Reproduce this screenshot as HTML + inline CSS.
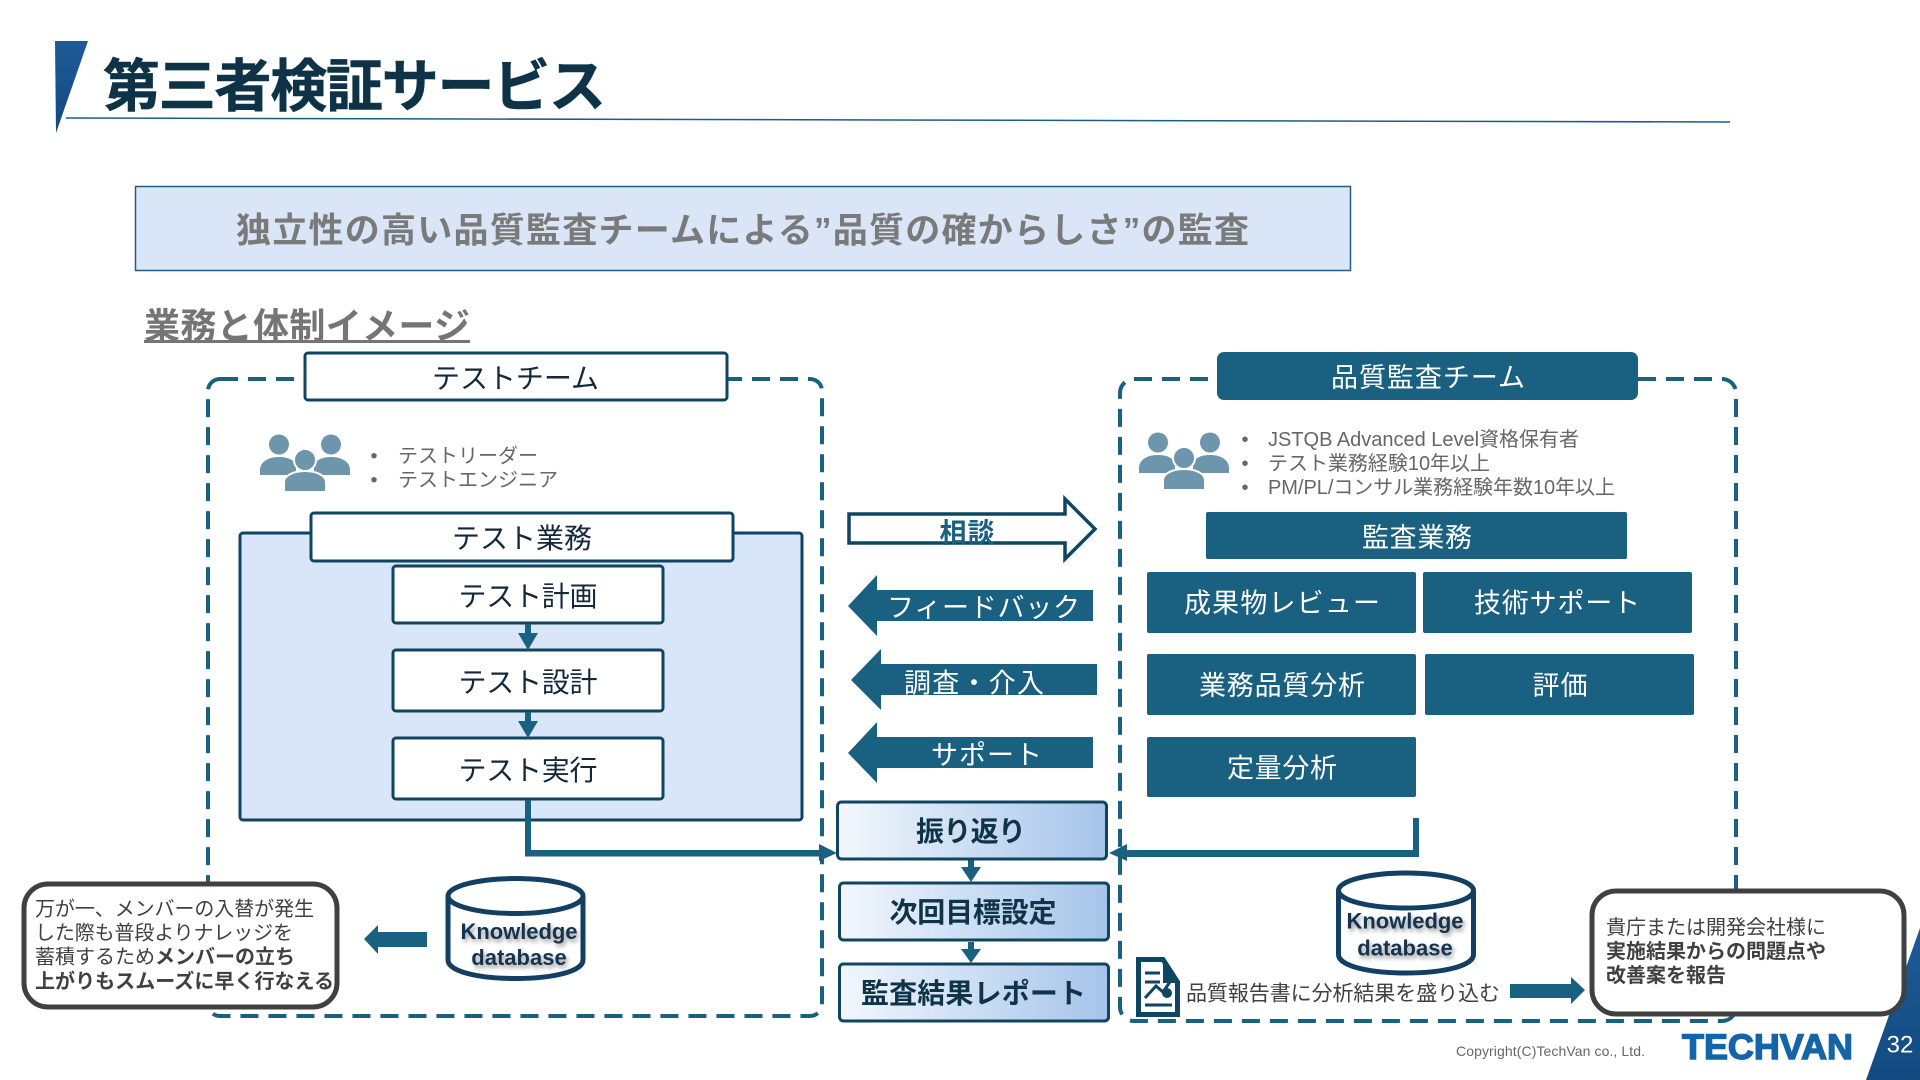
<!DOCTYPE html>
<html lang="ja"><head><meta charset="utf-8"><title>第三者検証サービス</title>
<style>
html,body{margin:0;padding:0;background:#fff;width:1920px;height:1080px;overflow:hidden}
svg{display:block}
text{font-family:"Liberation Sans","Noto Sans CJK JP",sans-serif;dominant-baseline:central;transform:translateY(1.5px)}
.c{text-anchor:middle}
.b{font-weight:700}
.d{fill:#14283a;font-size:28px}
.w{fill:#fff;font-size:27px}
.g{fill:#666;font-size:20px}
.k{fill:#404040;font-size:20px}
.h{fill:#0f3347;font-size:28px;font-weight:700}
.db{fill:#14334f;font-size:22px;font-weight:700;filter:drop-shadow(2px 3px 2px rgba(0,0,0,.4))}
</style></head><body>
<svg width="1920" height="1080" viewBox="0 0 1920 1080" xmlns="http://www.w3.org/2000/svg">
<defs>
<linearGradient id="gr" x1="0" x2="1" y1="0" y2="0"><stop offset="0" stop-color="#f2f7fd"/><stop offset="1" stop-color="#a5c4ea"/></linearGradient>
<linearGradient id="tr" x1="0" x2="0" y1="0" y2="1"><stop offset="0" stop-color="#1f5a96"/><stop offset="1" stop-color="#124a80"/></linearGradient>
<g id="ppl" fill="#6d96ad">
<circle cx="19" cy="10.5" r="10"/><circle cx="71" cy="10.5" r="10"/>
<path d="M0 41V36C0 28 8 23 19 23C28 23 33 26 36 30V41Z"/>
<path d="M90 41V36C90 28 82 23 71 23C62 23 57 26 54 30V41Z"/>
<circle cx="45" cy="26" r="11" stroke="#fff" stroke-width="2"/>
<path d="M24 58V48C24 42 33 37 45 37C57 37 66 42 66 48V58Z" stroke="#fff" stroke-width="2"/>
</g>
<g id="cyl">
<path d="M2.5 21V84C2.5 95 31 102.5 70 102.5C109 102.5 137.5 95 137.5 84V21" fill="#fff" stroke="#123f62" stroke-width="5"/>
<ellipse cx="70" cy="20" rx="67.5" ry="17.5" fill="#fff" stroke="#123f62" stroke-width="5"/>
</g>
</defs>

<!-- title -->
<polygon points="55,41 88,41 56,133" fill="url(#tr)"/>
<line x1="66" y1="118" x2="1730" y2="122" stroke="#1a5f80" stroke-width="1.5"/>
<text x="103" y="85.500" font-size="57" font-weight="700" fill="#0e3347" stroke="#0e3347" stroke-width="0.600" textLength="503">第三者検証サービス</text>

<!-- banner -->
<rect x="135.5" y="186.5" width="1215" height="84" fill="#dae6f8" stroke="#1b6080" stroke-width="1.5"/>
<text x="236" y="229.500" font-size="35" font-weight="700" fill="#7a7a7a" textLength="1013">独立性の高い品質監査チームによる”品質の確からしさ”の監査</text>

<!-- subtitle -->
<text x="144" y="324.500" font-size="36" font-weight="700" fill="#757575" textLength="326">業務と体制イメージ</text>
<rect x="144" y="340" width="326" height="3" fill="#757575"/>

<!-- dashed containers -->
<rect x="208" y="379" width="614" height="637" rx="12" fill="none" stroke="#1a6080" stroke-width="4" stroke-dasharray="18 10"/>
<rect x="1120" y="379" width="616" height="642" rx="14" fill="none" stroke="#1a6080" stroke-width="4" stroke-dasharray="18 10"/>

<!-- left team -->
<rect x="305" y="353" width="422" height="47" rx="3" fill="#fff" stroke="#0f4560" stroke-width="3"/>
<text x="515.500" y="377" class="c d" textLength="167">テストチーム</text>
<use href="#ppl" x="260" y="434"/>
<text x="374" y="455" class="g" text-anchor="middle">•</text>
<text x="374" y="479" class="g" text-anchor="middle">•</text>
<text x="398" y="455" class="g" textLength="140">テストリーダー</text>
<text x="398" y="479" class="g" textLength="160">テストエンジニア</text>

<rect x="240" y="533" width="562" height="287" rx="3" fill="#d9e6f9" stroke="#0f4560" stroke-width="3"/>
<rect x="311" y="513" width="422" height="48" rx="3" fill="#fff" stroke="#0f4560" stroke-width="3"/>
<text x="522" y="537" class="c d" textLength="140">テスト業務</text>
<rect x="393" y="566" width="270" height="57" rx="3" fill="#fff" stroke="#0f4560" stroke-width="3"/>
<text x="528" y="595" class="c d" textLength="139">テスト計画</text>
<rect x="393" y="650" width="270" height="61" rx="3" fill="#fff" stroke="#0f4560" stroke-width="3"/>
<text x="528" y="681" class="c d" textLength="139">テスト設計</text>
<rect x="393" y="738" width="270" height="61" rx="3" fill="#fff" stroke="#0f4560" stroke-width="3"/>
<text x="528" y="769" class="c d" textLength="139">テスト実行</text>
<g fill="#1a6080">
<rect x="525" y="624" width="6" height="12"/><polygon points="518,633 538,633 528,650"/>
<rect x="525" y="712" width="6" height="12"/><polygon points="518,721 538,721 528,738"/>
<!-- left connector -->
<path d="M525 800H531V850H819V844L837 853L819 861V856.500H525Z"/>
<!-- right connector -->
<path d="M1413 818H1419V857H1127V861L1109 853L1127 844V850H1413Z"/>
<!-- center arrows -->
<rect x="968" y="860" width="6" height="10"/><polygon points="961,867 981,867 971,882"/>
<rect x="968" y="942" width="6" height="10"/><polygon points="961,949 981,949 971,963"/>
</g>

<!-- left database + callout -->
<use href="#cyl" x="445.500" y="876"/>
<text x="519" y="930" class="c db" textLength="117">Knowledge</text>
<text x="519" y="956" class="c db">database</text>
<polygon points="364,939 378,925 378,932 427,932 427,947 378,947 378,954" fill="#1a6080"/>
<rect x="24" y="884" width="313" height="123" rx="24" fill="#fff" stroke="#404040" stroke-width="5"/>
<text x="35" y="908" class="k" textLength="279">万が一、メンバーの入替が発生</text>
<text x="35" y="932" class="k" textLength="258">した際も普段よりナレッジを</text>
<text x="35" y="956" class="k">蓄積するため<tspan font-weight="700">メンバーの立ち</tspan></text>
<text x="35" y="980.500" class="k b" textLength="299">上がりもスムーズに早く行なえる</text>

<!-- center arrows -->
<polygon points="849,514 1065,514 1065,499 1095,529 1065,559 1065,543 849,543" fill="#fff" stroke="#0f4560" stroke-width="3.500"/>
<text x="967" y="532" class="c b" font-size="27" fill="#1a6080" textLength="55">相談</text>
<polygon points="848,606 877,575 877,590 1093,590 1093,621 877,621 877,636" fill="#1a6080"/>
<text x="887" y="606.500" class="w" textLength="193">フィードバック</text>
<polygon points="851,680 881,649 881,664 1097,664 1097,695 881,695 881,710" fill="#1a6080"/>
<text x="904" y="682" class="w" textLength="140">調査・介入</text>
<polygon points="848,753 877,722 877,737 1093,737 1093,768 877,768 877,783" fill="#1a6080"/>
<text x="931" y="754" class="w" textLength="111">サポート</text>

<!-- center boxes -->
<rect x="837.500" y="802" width="269" height="57" rx="4" fill="url(#gr)" stroke="#0f4560" stroke-width="3"/>
<text x="971" y="830" class="c h" textLength="110">振り返り</text>
<rect x="839.500" y="883" width="269" height="57" rx="4" fill="url(#gr)" stroke="#0f4560" stroke-width="3"/>
<text x="973" y="911" class="c h" textLength="167">次回目標設定</text>
<rect x="839.500" y="964" width="269" height="57" rx="4" fill="url(#gr)" stroke="#0f4560" stroke-width="3"/>
<text x="973.500" y="992" class="c h" textLength="225">監査結果レポート</text>

<!-- right team -->
<rect x="1217" y="352" width="421" height="48" rx="7" fill="#1a6080"/>
<text x="1428" y="376.500" class="c w" textLength="194">品質監査チーム</text>
<use href="#ppl" x="1139" y="432"/>
<text x="1245" y="438.500" class="g" text-anchor="middle">•</text>
<text x="1245" y="462.500" class="g" text-anchor="middle">•</text>
<text x="1245" y="486.500" class="g" text-anchor="middle">•</text>
<text x="1268" y="438.500" class="g" textLength="311">JSTQB Advanced Level資格保有者</text>
<text x="1268" y="462.500" class="g" textLength="222">テスト業務経験10年以上</text>
<text x="1268" y="486.500" class="g" textLength="347">PM/PL/コンサル業務経験年数10年以上</text>

<g fill="#1a6080">
<rect x="1206" y="512" width="421" height="47" rx="2"/>
<rect x="1147" y="572" width="269" height="61" rx="2"/>
<rect x="1423" y="572" width="269" height="61" rx="2"/>
<rect x="1147" y="654" width="269" height="61" rx="2"/>
<rect x="1425" y="654" width="269" height="61" rx="2"/>
<rect x="1147" y="737" width="269" height="60" rx="2"/>
</g>
<text x="1417" y="536.500" class="c w" textLength="110">監査業務</text>
<text x="1282" y="602" class="c w" textLength="196">成果物レビュー</text>
<text x="1557" y="602" class="c w" textLength="166">技術サポート</text>
<text x="1282" y="684.500" class="c w" textLength="166">業務品質分析</text>
<text x="1560" y="684.500" class="c w" textLength="55">評価</text>
<text x="1282" y="767" class="c w" textLength="110">定量分析</text>

<!-- bottom-right corner -->
<polygon points="1920,928 1866,1080 1920,1080" fill="url(#tr)"/>
<text x="1900" y="1043.500" class="c" font-size="24" fill="#fff">32</text>

<!-- right database -->
<use href="#cyl" x="1336" y="870.500"/>
<text x="1405" y="919.500" class="c db" textLength="117">Knowledge</text>
<text x="1405" y="946.500" class="c db">database</text>

<!-- doc icon -->
<path d="M1138.500 959.500H1163L1177.500 982V1014.500H1138.500Z" fill="#fff" stroke="#0f4560" stroke-width="5"/>
<path d="M1163 959L1178 983H1163Z" fill="#0f4560"/>
<g fill="none" stroke="#0f4560" stroke-width="3">
<line x1="1145" y1="973" x2="1160" y2="973"/><line x1="1145" y1="982" x2="1160" y2="982"/>
<path d="M1145 998L1156 986L1163 992L1172 979"/>
<line x1="1145" y1="1005" x2="1172" y2="1005"/>
</g>
<circle cx="1167" cy="993" r="5" fill="#0f4560"/>
<text x="1186" y="992.500" font-size="21" fill="#404040" textLength="314">品質報告書に分析結果を盛り込む</text>
<polygon points="1510,984 1571,984 1571,977 1585,990 1571,1004 1571,998 1510,998" fill="#1a6080"/>

<!-- right callout -->
<rect x="1592" y="891" width="312" height="123" rx="24" fill="#fff" stroke="#404040" stroke-width="5"/>
<text x="1606" y="926.500" class="k" textLength="220">貴庁または開発会社様に</text>
<text x="1606" y="950.500" class="k b" textLength="220">実施結果からの問題点や</text>
<text x="1606" y="974.500" class="k b" textLength="120">改善案を報告</text>

<!-- footer -->
<text x="1456" y="1049.500" font-size="14" fill="#666" textLength="189">Copyright(C)TechVan co., Ltd.</text>
<text x="1682" y="1046" font-size="35" font-weight="700" fill="#1464a8" stroke="#1464a8" stroke-width="1.400" textLength="171" lengthAdjust="spacingAndGlyphs">TECHVAN</text>
</svg>
</body></html>
